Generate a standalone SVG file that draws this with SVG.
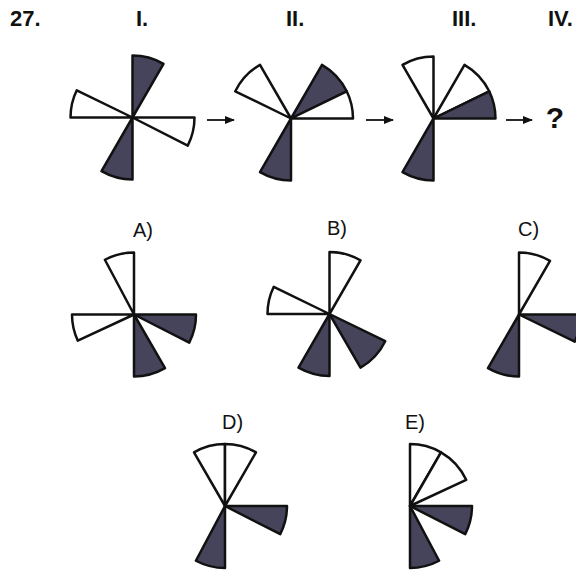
<svg xmlns="http://www.w3.org/2000/svg" width="576" height="572" viewBox="0 0 576 572">
<defs>
<style>
.w{fill:#ffffff;stroke:#111;stroke-width:2.5;stroke-linejoin:round}
.d{fill:#46445a;stroke:#111;stroke-width:2.5;stroke-linejoin:round}
.lb{font-family:"Liberation Sans",Arial,sans-serif;font-weight:bold;font-size:22px;fill:#111}
.ans{font-family:"Liberation Sans",Arial,sans-serif;font-size:20px;fill:#111}
.arr{stroke:#111;stroke-width:1.8;fill:none}
</style>
<marker id="ah" markerUnits="userSpaceOnUse" markerWidth="10" markerHeight="8" refX="9" refY="4" orient="auto">
<path d="M0,0 L10,4 L0,8 Z" fill="#111"/>
</marker>
</defs>
<rect width="576" height="572" fill="#fff"/>
<g id="labels">
<text class="lb" x="10" y="26">27.</text>
<text class="lb" x="136" y="26">I.</text>
<text class="lb" x="286" y="26">II.</text>
<text class="lb" x="452" y="26">III.</text>
<text class="lb" x="548" y="26">IV.</text>
<text class="lb" x="555" y="128" style="font-size:30px" text-anchor="middle">?</text>
<text class="ans" x="133" y="237">A)</text>
<text class="ans" x="327" y="235">B)</text>
<text class="ans" x="518" y="236">C)</text>
<text class="ans" x="222" y="429">D)</text>
<text class="ans" x="405" y="429">E)</text>
</g>
<g id="connectors">
<line class="arr" x1="207" y1="120" x2="234" y2="120" marker-end="url(#ah)"/>
<line class="arr" x1="366" y1="120" x2="393" y2="120" marker-end="url(#ah)"/>
<line class="arr" x1="506" y1="120" x2="532" y2="120" marker-end="url(#ah)"/>
</g>
<g id="fig1">
<path class="d" d="M132.5,117.5 L132.5,55.5 A62,62 0 0 1 163.5,63.81 Z"/>
<path class="w" d="M132.5,117.5 L70.5,117.5 A62,62 0 0 1 76.77,90.32 Z"/>
<path class="w" d="M132.5,117.5 L194.5,117.5 A62,62 0 0 1 187.74,145.65 Z"/>
<path class="d" d="M132.5,117.5 L132.5,179.5 A62,62 0 0 1 101.5,171.19 Z"/>
</g>
<g id="fig2">
<path class="w" d="M291,118.5 L235.27,91.32 A62,62 0 0 1 260,64.81 Z"/>
<path class="d" d="M291,118.5 L322,64.81 A62,62 0 0 1 346.73,91.32 Z"/>
<path class="w" d="M291,118.5 L346.73,91.32 A62,62 0 0 1 353,118.5 Z"/>
<path class="d" d="M291,118.5 L291,180.5 A62,62 0 0 1 260,172.19 Z"/>
</g>
<g id="fig3">
<path class="w" d="M433.5,118.5 L402.5,64.81 A62,62 0 0 1 433.5,56.5 Z"/>
<path class="w" d="M433.5,118.5 L464.5,64.81 A62,62 0 0 1 489.23,91.32 Z"/>
<path class="d" d="M433.5,118.5 L489.23,91.32 A62,62 0 0 1 495.5,118.5 Z"/>
<path class="d" d="M433.5,118.5 L433.5,180.5 A62,62 0 0 1 402.5,172.19 Z"/>
</g>
<g id="figA">
<path class="w" d="M134,314.5 L104.89,259.76 A62,62 0 0 1 134,252.5 Z"/>
<path class="w" d="M134,314.5 L77.81,340.7 A62,62 0 0 1 72,314.5 Z"/>
<path class="d" d="M134,314.5 L196,314.5 A62,62 0 0 1 189.24,342.65 Z"/>
<path class="d" d="M134,314.5 L165,368.19 A62,62 0 0 1 134,376.5 Z"/>
</g>
<g id="figB">
<path class="w" d="M329.5,314 L329.5,252 A62,62 0 0 1 360.5,260.31 Z"/>
<path class="w" d="M329.5,314 L267.5,314 A62,62 0 0 1 273.77,286.82 Z"/>
<path class="d" d="M329.5,314 L329.5,376 A62,62 0 0 1 298.5,367.69 Z"/>
<path class="d" d="M329.5,314 L385.23,341.18 A62,62 0 0 1 360.5,367.69 Z"/>
</g>
<g id="figC">
<path class="w" d="M519,314.5 L519,252.5 A62,62 0 0 1 550,260.81 Z"/>
<path class="d" d="M519,314.5 L581,314.5 A62,62 0 0 1 574.73,341.68 Z"/>
<path class="d" d="M519,314.5 L519,376.5 A62,62 0 0 1 488,368.19 Z"/>
</g>
<g id="figD">
<path class="w" d="M225,506 L194,452.31 A62,62 0 0 1 225,444 Z"/>
<path class="w" d="M225,506 L225,444 A62,62 0 0 1 256,452.31 Z"/>
<path class="d" d="M225,506 L287,506 A62,62 0 0 1 280.24,534.15 Z"/>
<path class="d" d="M225,506 L225,568 A62,62 0 0 1 195.89,560.74 Z"/>
</g>
<g id="figE">
<path class="w" d="M410,506 L410,444 A62,62 0 0 1 441,452.31 Z"/>
<path class="w" d="M410,506 L441,452.31 A62,62 0 0 1 466.19,479.8 Z"/>
<path class="d" d="M410,506 L472,506 A62,62 0 0 1 465.24,534.15 Z"/>
<path class="d" d="M410,506 L439.11,560.74 A62,62 0 0 1 410,568 Z"/>
</g>
</svg>
